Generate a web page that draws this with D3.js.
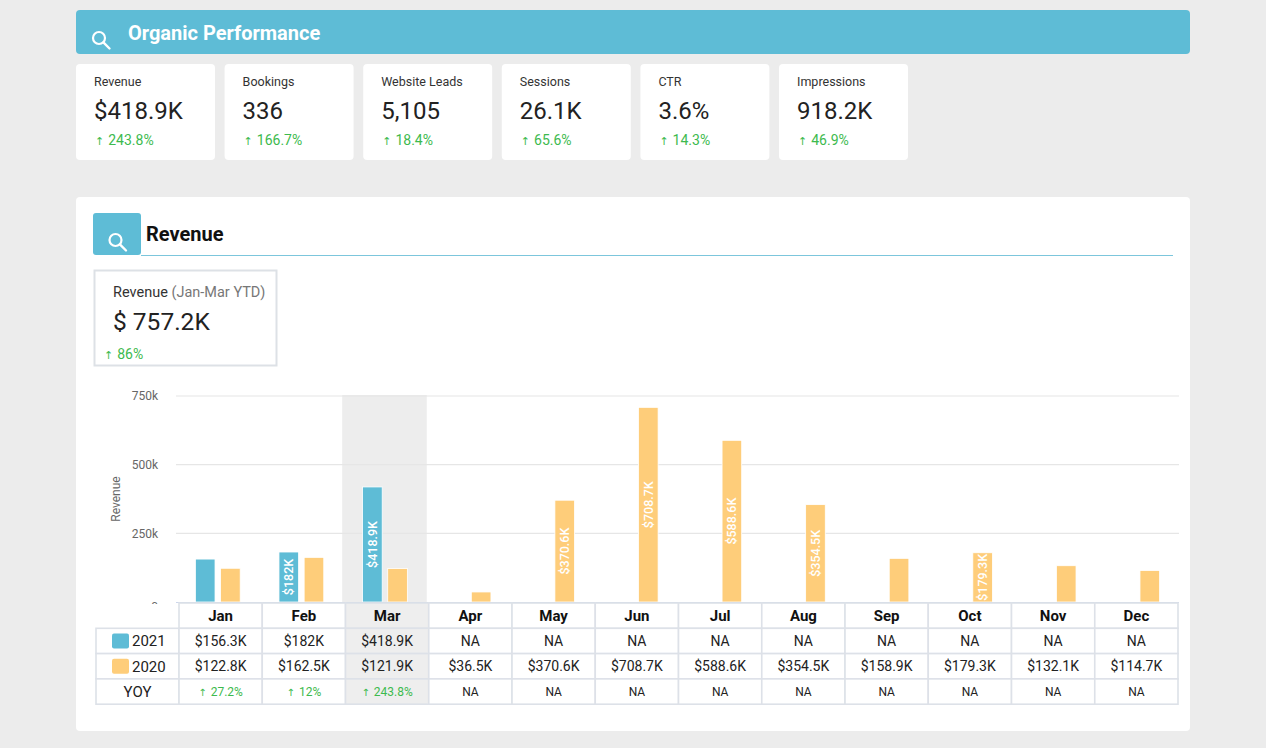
<!DOCTYPE html>
<html>
<head>
<meta charset="utf-8">
<script src="https://cdn.jsdelivr.net/npm/d3@7"></script>
<style>
  html, body { margin: 0; padding: 0; background: #ececec; }
  svg { display: block; font-family: Roboto, "Noto Sans", sans-serif; }
</style>
</head>
<body>
<div id="chart"></div>
<script>
// Chart data
const months = ["Jan", "Feb", "Mar", "Apr", "May", "Jun", "Jul", "Aug", "Sep", "Oct", "Nov", "Dec"];
const rev2021 = [156300, 182000, 418900, null, null, null, null, null, null, null, null, null];
const rev2020 = [122800, 162500, 121900, 36500, 370600, 708700, 588600, 354500, 158900, 179300, 132100, 114700];
const yoy = ["27.2%", "12%", "243.8%", null, null, null, null, null, null, null, null, null];
const series = ["2021", "2020"];
const yTicks = [0, 250000, 500000, 750000];
const yTickLabels = ["0", "250k", "500k", "750k"];
const currentMonth = "Mar";

// KPI cards
const kpiLabels = ["Revenue", "Bookings", "Website Leads", "Sessions", "CTR", "Impressions"];
const kpiValues = ["$418.9K", "336", "5,105", "26.1K", "3.6%", "918.2K"];
const kpiChanges = ["243.8%", "166.7%", "18.4%", "65.6%", "14.3%", "46.9%"];

const ytdLabel = "Revenue";
const ytdPeriod = "(Jan-Mar YTD)";
const ytdValue = "$ 757.2K";
const ytdChange = "86%";

const teal = "#5ebcd6";
const orange = "#fecd7a";
const green = "#3dba4e";

const svg = d3.select("#chart")
    .append("svg")
    .attr("width", 1266)
    .attr("height", 748);

function magnifier(g, cx, cy) {
    g.append("circle")
        .attr("cx", cx).attr("cy", cy).attr("r", 6)
        .attr("fill", "none").attr("stroke", "#fff").attr("stroke-width", 2.2);
    g.append("line")
        .attr("x1", cx + 4.4).attr("y1", cy + 4.4)
        .attr("x2", cx + 10.5).attr("y2", cy + 10.5)
        .attr("stroke", "#fff").attr("stroke-width", 2.4).attr("stroke-linecap", "round");
}

function upArrow(text, value, size) {
    text.append("tspan").attr("font-size", size).attr("font-family", "DejaVu Sans").text("↑");
    text.append("tspan").attr("dx", 4).text(value);
}

// Banner
svg.append("rect")
    .attr("x", 76).attr("y", 10).attr("width", 1114).attr("height", 44)
    .attr("rx", 4).attr("fill", teal);
magnifier(svg, 99, 38);
svg.append("text")
    .attr("x", 128).attr("y", 40)
    .attr("fill", "#fff").attr("font-size", 20).attr("font-weight", "bold")
    .text("Organic Performance");

// KPI cards
let cx = 76;
kpiLabels.forEach((label, i) => {
    const w = i === 0 ? 139 : 129;
    const g = svg.append("g").attr("transform", `translate(${cx},64)`);
    g.append("rect").attr("width", w).attr("height", 96).attr("rx", 4).attr("fill", "#fff");
    g.append("text").attr("x", 18).attr("y", 22)
        .attr("font-size", 12.5).attr("fill", "#333").text(label);
    g.append("text").attr("x", 18).attr("y", 55)
        .attr("font-size", 24).attr("fill", "#222").text(kpiValues[i]);
    const t = g.append("text").attr("x", 19).attr("y", 81)
        .attr("font-size", 14).attr("fill", green);
    upArrow(t, kpiChanges[i], 11);
    cx += w + 9.6;
});

// Revenue panel
svg.append("rect")
    .attr("x", 76).attr("y", 197).attr("width", 1114).attr("height", 534)
    .attr("rx", 4).attr("fill", "#fff");
svg.append("rect")
    .attr("x", 93).attr("y", 213).attr("width", 48).attr("height", 42)
    .attr("rx", 3).attr("fill", teal);
magnifier(svg, 115.5, 240);
svg.append("text")
    .attr("x", 146).attr("y", 241)
    .attr("font-size", 20).attr("font-weight", "bold").attr("fill", "#111")
    .text("Revenue");
svg.append("line")
    .attr("x1", 141).attr("x2", 1173).attr("y1", 255.5).attr("y2", 255.5)
    .attr("stroke", "#7cc6dc").attr("stroke-width", 1);

// YTD box
const ytd = svg.append("g").attr("transform", "translate(94,270)");
ytd.append("rect").attr("x", 0.5).attr("y", 0.5).attr("width", 182).attr("height", 95)
    .attr("fill", "#fff").attr("stroke", "#dde1e6").attr("stroke-width", 2);
const yl = ytd.append("text").attr("x", 19).attr("y", 27).attr("font-size", 14.5).attr("fill", "#333");
yl.append("tspan").text(ytdLabel + " ");
yl.append("tspan").attr("fill", "#777").text(ytdPeriod);
ytd.append("text").attr("x", 19).attr("y", 60)
    .attr("font-size", 24.5).attr("fill", "#222").text(ytdValue);
const yc = ytd.append("text").attr("x", 10).attr("y", 89).attr("font-size", 14).attr("fill", green);
upArrow(yc, ytdChange, 11);

// Scales
const x = d3.scaleBand().domain(months).range([176, 1179]);
const xInner = d3.scaleBand().domain(series).range([-22.4, 22.4]).paddingInner(0.22);
const y = d3.scaleLinear().domain([0, 750000]).range([602, 396]);

// Current month highlight
svg.append("rect")
    .attr("x", x(currentMonth) - 1).attr("y", y(750000) - 1)
    .attr("width", x.bandwidth() + 1).attr("height", y(0) - y(750000) + 1)
    .attr("fill", "#ededed");

// Grid lines
svg.append("g")
    .selectAll("line")
    .data(yTicks.slice(1))
    .join("line")
    .attr("x1", 176).attr("x2", 1179)
    .attr("y1", d => y(d)).attr("y2", d => y(d))
    .attr("stroke", "#e6e6e6").attr("stroke-width", 1.2);

// Y axis labels
const yAxis = svg.append("g")
    .attr("transform", "translate(158,0)")
    .call(d3.axisLeft(y).tickValues(yTicks).tickFormat((d, i) => yTickLabels[i]).tickSize(0).tickPadding(0));
yAxis.select(".domain").remove();
yAxis.selectAll("text")
    .attr("font-family", "Roboto, sans-serif")
    .attr("font-size", 12).attr("fill", "#666");
yAxis.selectAll(".tick").filter(d => d === 0).select("text").attr("dy", "0.7em");

svg.append("text")
    .attr("transform", `translate(120,${(y(0) + y(750000)) / 2}) rotate(-90)`)
    .attr("text-anchor", "middle")
    .attr("font-size", 12).attr("fill", "#666")
    .text("Revenue");

// Bars
const barData = [];
months.forEach((m, i) => {
    [rev2021[i], rev2020[i]].forEach((v, j) => {
        if (v != null) barData.push({ month: m, series: series[j], value: v });
    });
});

const fmtK = v => "$" + d3.format(".1~f")(v / 1000) + "K";

const bars = svg.append("g")
    .selectAll("g")
    .data(barData)
    .join("g")
    .attr("transform", d => `translate(${x(d.month) + x.bandwidth() / 2 + xInner(d.series)},0)`);

bars.append("rect")
    .attr("y", d => y(d.value))
    .attr("width", xInner.bandwidth())
    .attr("height", d => y(0) - y(d.value))
    .attr("fill", d => d.series === "2021" ? teal : orange)
    .attr("stroke", "#fff").attr("stroke-width", 0.8);

bars.filter(d => d.value >= 170000)
    .append("text")
    .attr("transform", d => `translate(${xInner.bandwidth() / 2},${(y(d.value) + y(0)) / 2}) rotate(-90)`)
    .attr("text-anchor", "middle")
    .attr("dy", "0.36em")
    .attr("font-size", 12.5)
    .attr("font-weight", 500)
    .attr("fill", "#fff")
    .text(d => fmtK(d.value));

// Axis line
svg.append("line")
    .attr("x1", 176).attr("x2", 1179).attr("y1", 602.5).attr("y2", 602.5)
    .attr("stroke", "#ccd6eb");

// Data table
const tx = d3.scaleBand().domain(months).range([179, 1178]);
const rowTop = 603, rowH = 25.3;
const table = svg.append("g");
table.append("rect")
    .attr("x", 90).attr("y", rowTop + 1).attr("width", 1092).attr("height", rowH * 4)
    .attr("fill", "#fff");

const rows = [
    { key: "head", label: null, values: months },
    { key: "2021", label: "2021", values: rev2021.map(v => v == null ? "NA" : fmtK(v)) },
    { key: "2020", label: "2020", values: rev2020.map(v => v == null ? "NA" : fmtK(v)) },
    { key: "yoy", label: "YOY", values: yoy.map(v => v == null ? "NA" : v) }
];
const cellStroke = "#dde1e8";

rows.forEach((row, r) => {
    const ry = rowTop + r * rowH;
    const g = table.append("g");
    if (row.label) {
        g.append("rect")
            .attr("x", 96).attr("y", ry).attr("width", 179 - 96).attr("height", rowH)
            .attr("fill", "#fff").attr("stroke", cellStroke).attr("stroke-width", 1.6);
        const cy = ry + rowH / 2;
        if (row.key !== "yoy") {
            g.append("rect")
                .attr("x", 112).attr("y", cy - 7.5).attr("width", 17).attr("height", 15)
                .attr("rx", 2).attr("fill", row.key === "2021" ? teal : orange);
            g.append("text").attr("x", 132).attr("y", cy).attr("dy", "0.36em")
                .attr("font-size", 15).attr("fill", "#222").text(row.label);
        } else {
            g.append("text").attr("x", 137.5).attr("y", cy).attr("dy", "0.36em")
                .attr("text-anchor", "middle")
                .attr("font-size", 15).attr("fill", "#222").text(row.label);
        }
    }
    const cells = g.selectAll("g.cell")
        .data(row.values.map((v, i) => ({ v, m: months[i] })))
        .join("g").attr("class", "cell")
        .attr("transform", d => `translate(${tx(d.m)},${ry})`);
    cells.append("rect")
        .attr("width", tx.bandwidth()).attr("height", rowH)
        .attr("fill", d => d.m === currentMonth ? "#eeeeee" : "#fff")
        .attr("stroke", cellStroke).attr("stroke-width", 1.6);
    const txt = cells.append("text")
        .attr("x", tx.bandwidth() / 2).attr("y", rowH / 2).attr("dy", "0.36em")
        .attr("text-anchor", "middle");
    if (row.key === "head") {
        txt.attr("font-size", 15).attr("font-weight", "bold").attr("fill", "#111").text(d => d.v);
    } else if (row.key === "yoy") {
        txt.attr("font-size", 12)
            .attr("fill", d => d.v === "NA" ? "#222" : green)
            .each(function (d) {
                const t = d3.select(this);
                if (d.v === "NA") t.text("NA");
                else upArrow(t, d.v, 10);
            });
    } else {
        txt.attr("font-size", 14).attr("fill", "#222").text(d => d.v);
    }
});
</script>
</body>
</html>
